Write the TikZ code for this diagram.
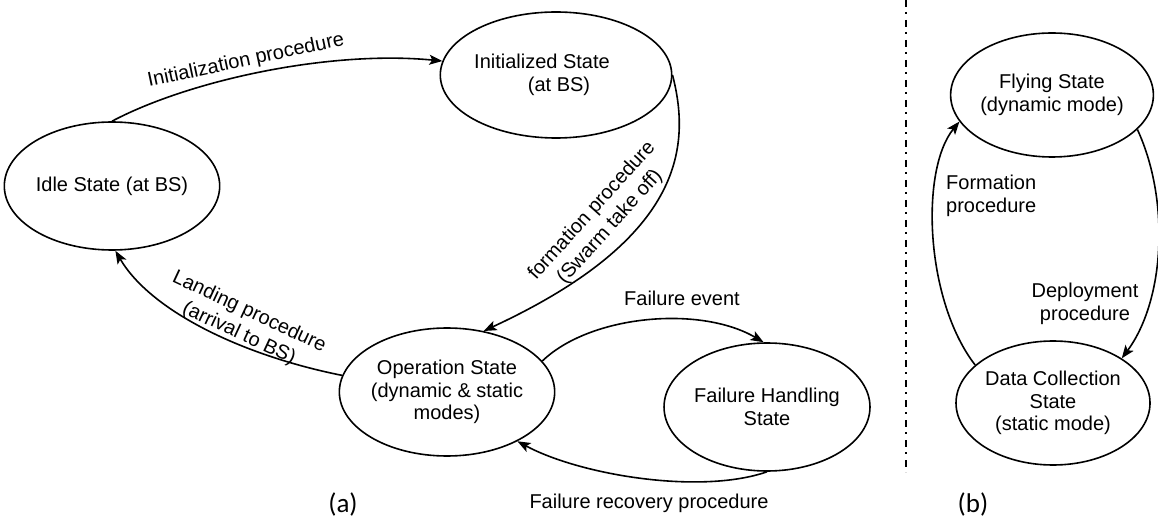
\documentclass[tikz,border=0pt]{standalone}
\usepackage{fontspec}
\setmainfont{Liberation Sans}
\newfontfamily\capfont{Carlito}
\usetikzlibrary{shapes.geometric,arrows.meta}
\begin{document}
\begin{tikzpicture}[x=1pt,y=-1pt,
  font=\fontsize{20}{22.5}\selectfont,
  state/.style={ellipse,draw,line width=1.6pt,inner sep=0pt,align=center},
  trans/.style={line width=1.6pt,-{Stealth[length=13pt,width=10pt,inset=3pt]}},
  lbl/.style={inner sep=0pt,align=center},
  slant/.style={lbl,font=\fontsize{20}{24}\selectfont},
  panel/.style={inner sep=0pt,font=\capfont\fontsize{27}{30}\selectfont},
]
\useasboundingbox (0,0) rectangle (1158,526);
\fill[white] (0,0) rectangle (1158,526);

% ---- (a) swarm life cycle ----
\node[state,minimum width=202pt,minimum height=128pt] (idle) at (112,186) {Idle State (at BS)};
\node[state,minimum width=202pt,minimum height=126pt] (init) at (556,75)
  {Initialized State\hspace*{28pt}\\\hspace*{6pt}(at BS)};
\node[state,minimum width=200pt,minimum height=128pt] (op) at (447,392)
  {Operation State\\(dynamic \& static\\modes)};
\node[state,minimum width=202pt,minimum height=128pt] (fail) at (767,407)
  {Failure Handling\\State};

\draw[trans] (idle.north) .. controls (190,80) and (330,50) .. (init.173);
\node[lbl,rotate=12] (lInit) at (246,61) {Initialization procedure};

\draw[trans] (init.east) .. controls (692,150) and (680,240) .. (op.59);
\node[slant,rotate=48] (lForm) at (601,219) {formation procedure\\(Swarm take off)};

\draw[trans] (op.171) .. controls (240,355) and (150,310) .. (idle.-87);
\node[slant,rotate=-25] (lLand) at (244,323) {Landing procedure\\(arrival to BS)};

\draw[trans] (op.18) .. controls (590,315) and (700,305) .. (fail.93);
\node[lbl] (lFail) at (682,298) {Failure event};

\draw[trans] (fail.south) .. controls (700,495) and (580,475) .. (op.-35);
\node[lbl] (lRec) at (649,503) {Failure recovery procedure};

\node[panel] (capA) at (343,504) {(a)};

% ---- separator ----
\draw[line width=1.5pt,dash pattern=on 7pt off 5pt on 2pt off 6pt] (906,0) -- (906,472);

% ---- (b) node modes ----
\node[state,minimum width=192pt,minimum height=124pt] (fly) at (1052,95)
  {Flying State\\(dynamic mode)};
\node[state,minimum width=194pt,minimum height=124pt] (data) at (1053,403)
  {Data Collection\\State\\(static mode)};

\draw[trans] (data.154) .. controls (925,300) and (920,170) .. (fly.196);
\node[lbl,align=left,anchor=west] (lFormB) at (946,196) {Formation\\procedure};

\draw[trans] (fly.-22) .. controls (1170,200) and (1165,300) .. (data.33);
\node[lbl] (lDep) at (1085,304) {Deployment\\procedure};

\node[panel] (capB) at (973,504) {(b)};
\end{tikzpicture}
\end{document}
